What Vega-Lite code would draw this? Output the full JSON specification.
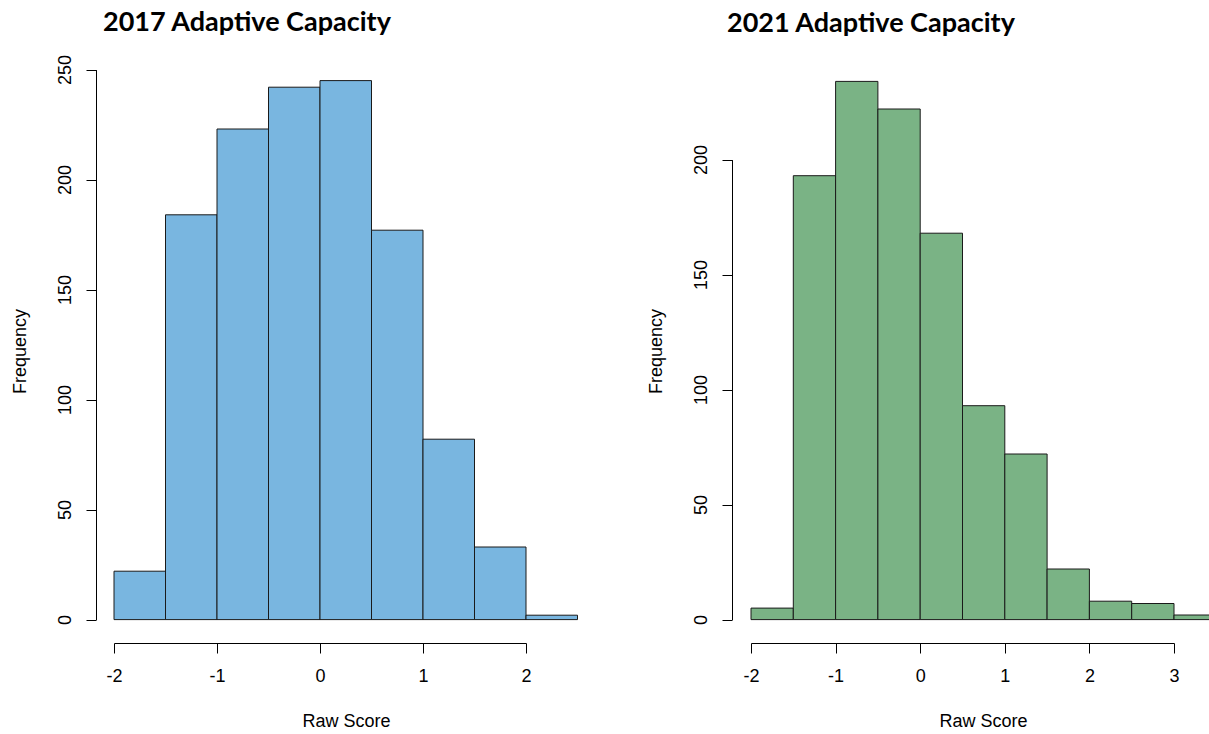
{
  "$schema": "https://vega.github.io/schema/vega-lite/v6.json",
  "background": "white",
  "padding": {"left": 10, "top": 8, "right": 0, "bottom": 0},
  "spacing": 51,
  "datasets": {
    "y2017": [
      {"bin_start": -2.0, "bin_end": -1.5, "count": 22},
      {"bin_start": -1.5, "bin_end": -1.0, "count": 184},
      {"bin_start": -1.0, "bin_end": -0.5, "count": 223},
      {"bin_start": -0.5, "bin_end": 0.0, "count": 242},
      {"bin_start": 0.0, "bin_end": 0.5, "count": 245},
      {"bin_start": 0.5, "bin_end": 1.0, "count": 177},
      {"bin_start": 1.0, "bin_end": 1.5, "count": 82},
      {"bin_start": 1.5, "bin_end": 2.0, "count": 33},
      {"bin_start": 2.0, "bin_end": 2.5, "count": 2}
    ],
    "y2021": [
      {"bin_start": -2.0, "bin_end": -1.5, "count": 5},
      {"bin_start": -1.5, "bin_end": -1.0, "count": 193},
      {"bin_start": -1.0, "bin_end": -0.5, "count": 234},
      {"bin_start": -0.5, "bin_end": 0.0, "count": 222},
      {"bin_start": 0.0, "bin_end": 0.5, "count": 168},
      {"bin_start": 0.5, "bin_end": 1.0, "count": 93},
      {"bin_start": 1.0, "bin_end": 1.5, "count": 72},
      {"bin_start": 1.5, "bin_end": 2.0, "count": 22},
      {"bin_start": 2.0, "bin_end": 2.5, "count": 8},
      {"bin_start": 2.5, "bin_end": 3.0, "count": 7},
      {"bin_start": 3.0, "bin_end": 3.5, "count": 2}
    ]
  },
  "config": {
    "view": {"stroke": null},
    "axis": {
      "domainColor": "#000000",
      "tickColor": "#000000",
      "labelColor": "#000000",
      "titleColor": "#000000",
      "labelFont": "Liberation Sans",
      "titleFont": "Liberation Sans",
      "labelFontSize": 18,
      "titleFontSize": 18,
      "titleFontWeight": "normal",
      "grid": false,
      "tickSize": 10,
      "domainWidth": 1,
      "tickWidth": 1,
      "labelFlush": false,
      "labelOverlap": false,
      "labelExpr": "datum.value < 0 ? '-' + abs(datum.value) : '' + datum.value"
    },
    "title": {
      "font": "Lato",
      "fontWeight": "bold",
      "fontSize": 27,
      "color": "#000000",
      "anchor": "start",
      "frame": "group",
      "offset": 14
    }
  },
  "hconcat": [
    {
      "width": 500,
      "height": 584,
      "data": {"name": "y2017"},
      "title": {"text": "2017 Adaptive Capacity", "dx": 7, "offset": 18},
      "mark": {"type": "rect", "fill": "#79B6E0", "stroke": "#1a1a1a", "strokeWidth": 1},
      "encoding": {
        "x": {
          "field": "bin_start", "type": "quantitative",
          "scale": {"domain": [-2, 2], "range": [18, 430], "nice": false, "zero": false},
          "axis": {"values": [-2, -1, 0, 1, 2], "title": "Raw Score", "labelPadding": 14, "titlePadding": 27, "titleX": 250}
        },
        "x2": {"field": "bin_end"},
        "y": {
          "field": "count", "type": "quantitative",
          "scale": {"domain": [0, 250], "range": [560.6, 10.6], "nice": false, "zero": false},
          "axis": {"values": [0, 50, 100, 150, 200, 250], "title": "Frequency", "labelAngle": -90, "labelAlign": "center", "labelBaseline": "bottom", "labelPadding": 12, "titlePadding": 27, "titleY": 292}
        },
        "y2": {"datum": 0}
      }
    },
    {
      "width": 477,
      "height": 584,
      "data": {"name": "y2021"},
      "title": {"text": "2021 Adaptive Capacity", "dx": -5, "offset": 21},
      "mark": {"type": "rect", "fill": "#7AB385", "stroke": "#1a1a1a", "strokeWidth": 1, "clip": true},
      "encoding": {
        "x": {
          "field": "bin_start", "type": "quantitative",
          "scale": {"domain": [-2, 3], "range": [19, 442], "nice": false, "zero": false},
          "axis": {"values": [-2, -1, 0, 1, 2, 3], "title": "Raw Score", "labelPadding": 14, "titlePadding": 27, "titleX": 251}
        },
        "x2": {"field": "bin_end"},
        "y": {
          "field": "count", "type": "quantitative",
          "scale": {"domain": [0, 200], "range": [560.6, 100.6], "nice": false, "zero": false},
          "axis": {"values": [0, 50, 100, 150, 200], "title": "Frequency", "labelAngle": -90, "labelAlign": "center", "labelBaseline": "bottom", "labelPadding": 12, "titlePadding": 27, "titleY": 292}
        },
        "y2": {"datum": 0}
      }
    }
  ]
}
